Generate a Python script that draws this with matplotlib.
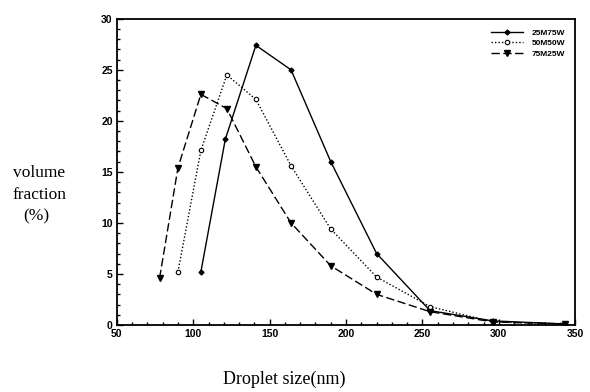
import matplotlib
matplotlib.use("Agg")
import matplotlib.pyplot as plt
from matplotlib.ticker import MultipleLocator

x_a = [105, 121, 141, 164, 190, 220, 255, 296, 343]
y_a = [5.2, 18.2, 27.4, 25.0, 16.0, 7.0, 1.4, 0.4, 0.1]
x_b = [90, 105, 122, 141, 164, 190, 220, 255, 296, 343]
y_b = [5.2, 17.1, 24.5, 22.1, 15.6, 9.4, 4.7, 1.8, 0.3, 0.1]
x_c = [78, 90, 105, 122, 141, 164, 190, 220, 255, 296, 343]
y_c = [4.6, 15.4, 22.6, 21.2, 15.5, 10.0, 5.8, 3.0, 1.3, 0.3, 0.1]
labels = ["25M75W", "50M50W", "75M25W"]
ylabel_lines = ["volume", "fraction", "(%)"]

fig = plt.figure(figsize=(5.9, 3.92), dpi=100)
ax = fig.add_axes([0.198, 0.171, 0.777, 0.781])

ax.plot(x_a, y_a, color="black", lw=1.0, ls="-", marker="D", ms=2.5, mfc="black", label=labels[0])
ax.plot(x_b, y_b, color="black", lw=1.0, ls=(0, (1, 1.5)), marker="o", ms=3.2, mfc="white", mew=0.8, label=labels[1])
ax.plot(x_c, y_c, color="black", lw=1.0, ls=(0, (6, 2.5)), marker="v", ms=4.5, mfc="black", label=labels[2])

ax.set_xlim(50, 350)
ax.set_ylim(0, 30)
ax.xaxis.set_major_locator(MultipleLocator(50))
ax.xaxis.set_minor_locator(MultipleLocator(10))
ax.yaxis.set_major_locator(MultipleLocator(5))
ax.yaxis.set_minor_locator(MultipleLocator(1))
ax.tick_params(which="both", direction="in", width=1.0)
ax.tick_params(which="major", length=4, labelsize=7.5, pad=3)
ax.tick_params(which="minor", length=2)
for lab in ax.get_xticklabels() + ax.get_yticklabels():
    lab.set_fontweight("bold")
    lab.set_family("Liberation Sans")
for s in ax.spines.values():
    s.set_linewidth(1.3)

leg = ax.legend(loc="upper right", frameon=False, handlelength=3.9, handletextpad=1.0,
                labelspacing=0.35, borderaxespad=0.7, borderpad=0.5,
                prop={"family": "Liberation Sans", "weight": "bold", "size": 6})

fig.text(0.482, 0.033, "Droplet size(nm)", family="Liberation Serif", fontsize=13, ha="center", va="center")
fig.text(0.022, 1 - 173 / 392, ylabel_lines[0], family="Liberation Serif", fontsize=12.5, ha="left", va="center")
fig.text(0.022, 1 - 195 / 392, ylabel_lines[1], family="Liberation Serif", fontsize=12.5, ha="left", va="center")
fig.text(0.039, 1 - 216 / 392, ylabel_lines[2], family="Liberation Serif", fontsize=12.5, ha="left", va="center")

fig.savefig("out.png", dpi=100)
